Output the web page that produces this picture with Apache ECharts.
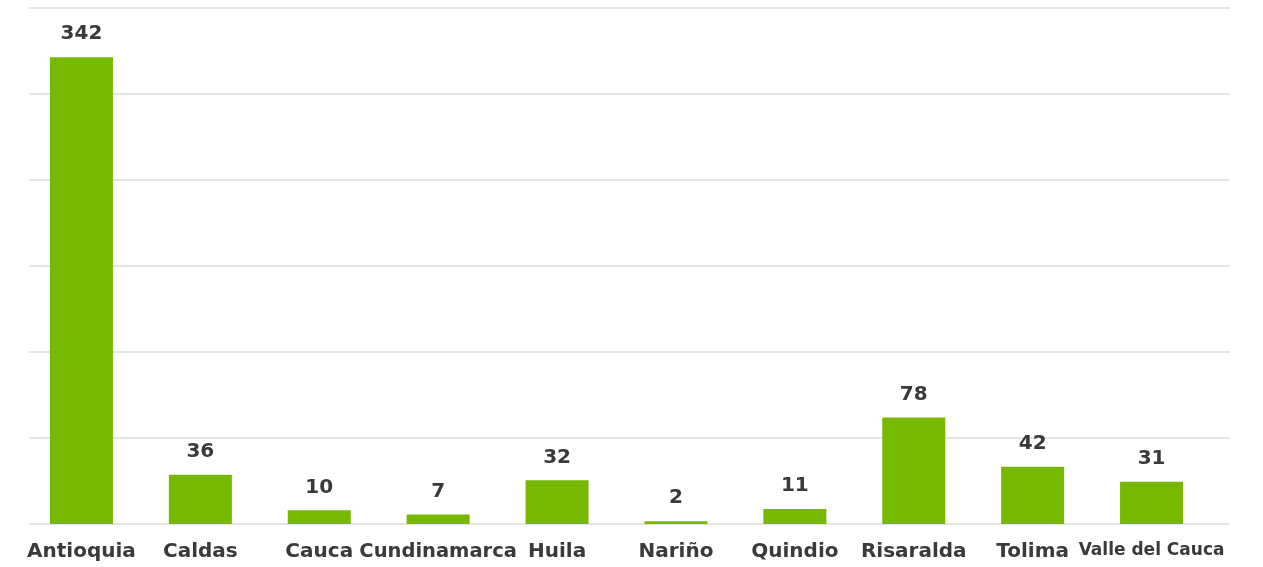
<!DOCTYPE html>
<html>
<head>
<meta charset="utf-8">
<script src="https://cdn.jsdelivr.net/npm/echarts@6/dist/echarts.min.js"></script>
<style>
html,body{margin:0;padding:0;background:#fff;}
#chart{width:1263px;height:567px;}
</style>
</head>
<body>
<div id="chart"></div>
<script>
const categories = ['Antioquia','Caldas','Cauca','Cundinamarca','Huila','Nariño','Quindio','Risaralda','Tolima','Valle del Cauca'];
const values = [342,36,10,7,32,2,11,78,42,31];

const chart = echarts.init(document.getElementById('chart'));
chart.setOption({
  animation: false,
  grid: [
    {left: 22, width: 1189, top: 8, height: 516},
    {left: 29, right: 33, top: 8, height: 516}
  ],
  xAxis: [{
    type: 'category',
    gridIndex: 0,
    data: categories,
    axisLine: {show: false},
    axisTick: {show: false},
    axisLabel: {
      interval: 0,
      margin: 18,
      color: '#3a3a3a',
      fontFamily: 'DejaVu Sans',
      fontWeight: 'bold',
      fontSize: 20,
      formatter: function (v) {
        if (v === 'Cundinamarca') return '{m|' + v + '}';
        if (v === 'Valle del Cauca') return '{s|' + v + '}';
        return v;
      },
      rich: {
        m: {fontSize: 19.5, fontWeight: 'bold', fontFamily: 'DejaVu Sans', color: '#3a3a3a'},
        s: {fontSize: 17, fontWeight: 'bold', fontFamily: 'DejaVu Sans', color: '#3a3a3a'}
      }
    }
  }, {
    type: 'value',
    gridIndex: 1,
    show: false
  }],
  yAxis: [{
    type: 'value',
    gridIndex: 0,
    min: 0, max: 378, interval: 63,
    axisLabel: {show: false},
    axisLine: {show: false},
    axisTick: {show: false},
    splitLine: {show: false}
  }, {
    type: 'value',
    gridIndex: 1,
    min: 0, max: 378, interval: 63,
    axisLabel: {show: false},
    axisLine: {show: false},
    axisTick: {show: false},
    splitLine: {lineStyle: {color: '#dcdcdc', width: 1.5}}
  }],
  series: [{
    type: 'bar',
    xAxisIndex: 0,
    yAxisIndex: 0,
    data: values,
    barWidth: 63,
    itemStyle: {color: '#76b900'},
    label: {
      show: true,
      position: 'top',
      distance: 13,
      color: '#3a3a3a',
      fontFamily: 'DejaVu Sans',
      fontWeight: 'bold',
      fontSize: 20
    }
  }]
});
</script>
</body>
</html>
